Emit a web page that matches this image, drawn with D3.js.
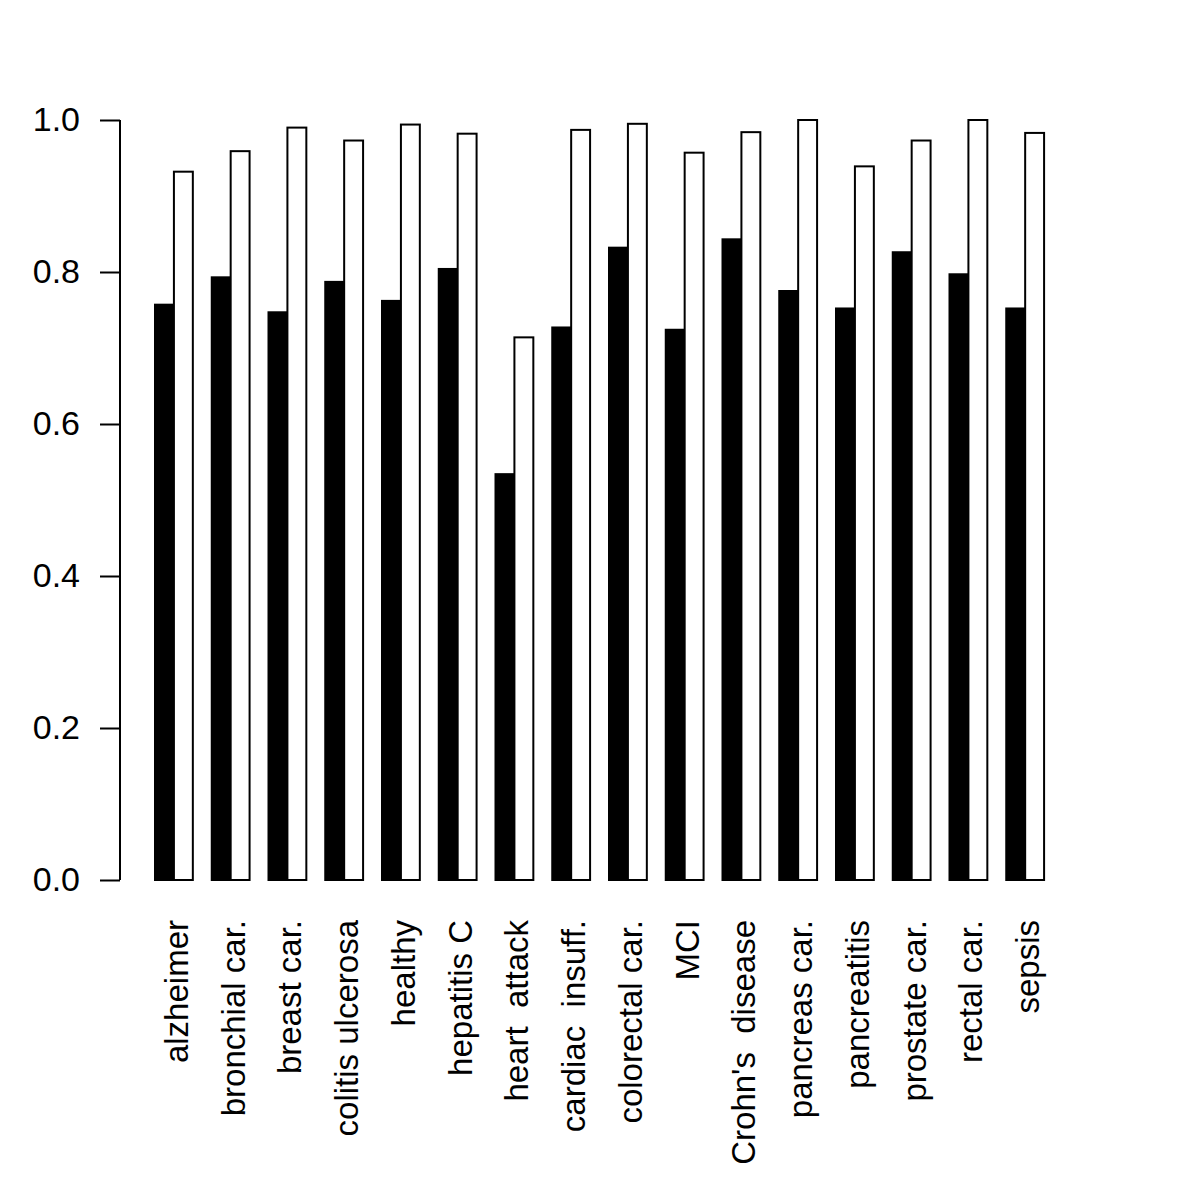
<!DOCTYPE html>
<html>
<head>
<meta charset="utf-8">
<script src="https://cdn.jsdelivr.net/npm/d3@7"></script>
<style>
  body { margin: 0; background: #fff; }
  text { font-family: 'Liberation Sans', Arial, sans-serif; }
</style>
</head>
<body>
<svg id="chart"></svg>
<script>
const width = 1200
const height = 1200

// groups along the x axis
const categories = ['alzheimer', 'bronchial car.', 'breast car.', 'colitis ulcerosa', 'healthy',
  'hepatitis C', 'heart  attack', 'cardiac  insuff.', 'colorectal car.', 'MCI',
  "Crohn's  disease", 'pancreas car.', 'pancreatitis', 'prostate car.', 'rectal car.', 'sepsis']

// black bars (first series)
const seriesA = [0.757, 0.793, 0.747, 0.787, 0.762, 0.804, 0.534, 0.727, 0.832, 0.724,
  0.843, 0.775, 0.752, 0.826, 0.797, 0.752]

// white bars (second series)
const seriesB = [0.932, 0.959, 0.990, 0.973, 0.994, 0.982, 0.714, 0.987, 0.995, 0.957,
  0.984, 1.000, 0.939, 0.973, 1.000, 0.983]

const yTicks = [0, 0.2, 0.4, 0.6, 0.8, 1.0]

const svg = d3.select('#chart').attr('width', width).attr('height', height)

// bar units like R barplot(beside=TRUE): each group = 2 bars + 1 gap
const x = d3.scaleLinear().domain([1, 49]).range([155, 1063])
const y = d3.scaleLinear().domain([0, 1]).range([880, 120])

const bars = []
categories.forEach(function (c, i) {
  bars.push({ start: 1 + 3 * i, v: seriesA[i], fill: '#000' })
  bars.push({ start: 2 + 3 * i, v: seriesB[i], fill: '#fff' })
})

svg.append('g')
  .selectAll('rect')
  .data(bars)
  .join('rect')
  .attr('x', d => x(d.start))
  .attr('y', d => y(d.v))
  .attr('width', d => x(d.start + 1) - x(d.start))
  .attr('height', d => y(0) - y(d.v))
  .attr('fill', d => d.fill)
  .attr('stroke', '#000')
  .attr('stroke-width', 2)

// y axis
const yAxis = d3.axisLeft(y)
  .tickValues(yTicks)
  .tickFormat(d3.format('.1f'))
  .tickSize(20)
  .tickPadding(20)

const ga = svg.append('g')
  .attr('transform', 'translate(120,0)')
  .call(yAxis)
ga.select('.domain').attr('d', 'M0,' + y(0) + 'V' + y(1)).attr('stroke-width', 2)
ga.selectAll('.tick line').attr('stroke-width', 2)
ga.selectAll('.tick text')
  .attr('font-size', 34)
  .attr('font-family', "'Liberation Sans', Arial, sans-serif")
  .attr('fill', '#000')

// category labels, perpendicular to the axis
svg.append('g')
  .selectAll('text')
  .data(categories)
  .join('text')
  .attr('transform', (d, i) => 'translate(' + (x(2 + 3 * i) + 14) + ',920) rotate(-90)')
  .attr('text-anchor', 'end')
  .attr('font-size', 33)
  .style('white-space', 'pre')
  .attr('fill', '#000')
  .text(d => d)
</script>
</body>
</html>
